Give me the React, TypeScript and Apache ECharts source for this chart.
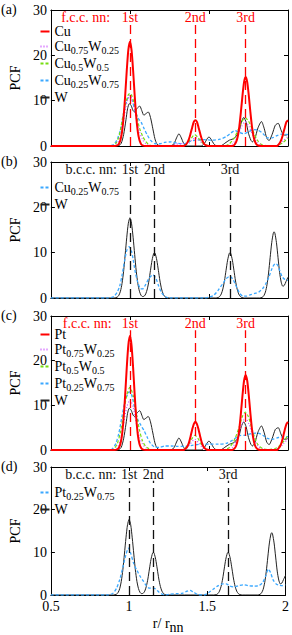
import React, { useEffect, useRef } from "react";
import * as echarts from "echarts";

const FONT = "'Liberation Serif', 'DejaVu Serif', serif";
const RED = "#ff0000";
const VIOLET = "#cc55ff";
const GREEN = "#77dd11";
const BLUE = "#3aa8ff";
const BLACK = "#222222";

const xTicks = [0.5, 1, 1.5, 2];
const yTicks = [0, 10, 20, 30];
const shellLabels = ["1st", "2nd", "3rd"];
const fccShells = [1, 1.414, 1.732];
const bccShells = [1, 1.155, 1.633];

// ---- panel (a): Cu-W, f.c.c.
const cuFcc = [[0.5,0],[0.9,0],[0.92,0.14],[0.93,0.46],[0.94,1.3],[0.95,3.1],[0.96,6.4],[0.97,11.2],[0.98,16.7],[0.99,21.2],[1.0,23],[1.01,21.2],[1.02,16.7],[1.03,11.2],[1.04,6.4],[1.05,3.1],[1.06,1.3],[1.07,0.46],[1.08,0.14],[1.1,0],[1.34,0],[1.354,0.3],[1.364,0.8],[1.374,1.6],[1.384,2.8],[1.394,4.1],[1.404,5.3],[1.414,5.7],[1.424,5.3],[1.434,4.1],[1.444,2.8],[1.454,1.6],[1.464,0.8],[1.474,0.3],[1.484,0.1],[1.5,0],[1.65,0],[1.662,0.3],[1.672,0.9],[1.682,2.1],[1.692,4.3],[1.702,7.5],[1.712,11.1],[1.722,14.1],[1.732,15.3],[1.742,14.1],[1.752,11.1],[1.762,7.5],[1.772,4.3],[1.782,2.1],[1.792,0.9],[1.802,0.3],[1.812,0.1],[1.83,0],[1.93,0],[1.94,0.3],[1.95,0.8],[1.96,1.6],[1.97,2.8],[1.98,4.1],[1.99,5.3],[2.0,5.7]];
const cu75w25 = [[0.5,0],[0.9,0],[0.92,0.6],[0.94,2.3],[0.96,5.8],[0.98,9.5],[1.0,11.2],[1.02,9.5],[1.04,6.2],[1.06,3.2],[1.08,1.4],[1.1,0.5],[1.13,0],[1.25,0],[1.29,0.4],[1.33,0.5],[1.37,0.6],[1.39,1.2],[1.415,1.8],[1.44,1.2],[1.46,0.5],[1.49,0],[1.62,0],[1.65,0.5],[1.68,2],[1.705,4.2],[1.73,5.4],[1.755,4.2],[1.78,2.2],[1.81,0.7],[1.84,0.1],[1.9,0],[1.94,0.3],[1.97,1.2],[2.0,2.1]];
const cu50w50 = [[0.5,0],[0.89,0],[0.91,0.5],[0.93,2],[0.95,5.5],[0.97,9],[0.99,11.3],[1.0,11.6],[1.01,11.3],[1.03,9],[1.05,5.5],[1.06,4],[1.08,2.2],[1.1,1],[1.12,0.3],[1.15,0],[1.33,0],[1.35,0.3],[1.37,0.9],[1.39,1.8],[1.41,2.5],[1.43,1.9],[1.45,1],[1.47,0.4],[1.49,0.1],[1.52,0],[1.6,0],[1.63,0.5],[1.66,1.8],[1.69,4],[1.71,5.5],[1.73,6.2],[1.75,5.5],[1.77,4],[1.79,2.4],[1.81,1.1],[1.83,0.4],[1.86,0.1],[1.9,0],[1.94,0.2],[1.97,0.8],[2.0,1.8]];
const cu25w75Fcc = [[0.5,0],[0.86,0],[0.88,0.1],[0.9,0.4],[0.92,1.5],[0.94,3.6],[0.96,7.3],[0.98,10],[1.0,11.2],[1.015,10],[1.03,8],[1.05,6.2],[1.07,5.3],[1.09,3.8],[1.11,2.4],[1.13,1.3],[1.16,0.5],[1.19,0.5],[1.22,0.8],[1.26,0.9],[1.3,0.6],[1.34,0.5],[1.38,1.0],[1.42,1.3],[1.47,1.4],[1.52,1.3],[1.57,1.5],[1.61,2.1],[1.64,2.9],[1.665,3.4],[1.69,3.0],[1.72,2.7],[1.75,3.1],[1.78,3.6],[1.81,3.5],[1.84,2.8],[1.87,1.8],[1.9,1.8],[1.93,2.3],[1.96,2.6],[2.0,2.5]];
const wFcc = [[0.5,0],[0.9,0],[0.93,0.1],[0.945,0.6],[0.96,2.5],[0.975,5.8],[0.985,8.2],[0.996,9.35],[1.008,8.9],[1.02,7.8],[1.03,7.5],[1.045,8.3],[1.062,8.8],[1.075,7.8],[1.088,6.8],[1.1,7.1],[1.116,7.5],[1.13,6.3],[1.145,3.8],[1.158,1.6],[1.17,0.5],[1.185,0.05],[1.2,0],[1.26,0],[1.28,0.6],[1.295,1.8],[1.31,2.7],[1.325,1.8],[1.34,0.6],[1.36,0],[1.45,0],[1.47,0.5],[1.485,1.4],[1.5,2.0],[1.515,1.4],[1.53,0.5],[1.55,0],[1.58,0.1],[1.6,0.6],[1.63,1.3],[1.66,1.7],[1.69,3.2],[1.705,5.3],[1.72,6.3],[1.735,5.2],[1.75,2.8],[1.765,1.3],[1.775,0.9],[1.79,1.6],[1.81,4.0],[1.832,5.4],[1.85,3.8],[1.865,1.8],[1.88,1.2],[1.9,2.6],[1.92,4.6],[1.938,5.0],[1.955,3.6],[1.97,2.5],[1.985,2.4],[2.0,2.6]];

// ---- panel (b) and (d): b.c.c.
const wBcc = [[0.5,0],[0.9,0],[0.92,0.2],[0.93,0.6],[0.94,1.5],[0.95,3.2],[0.96,5.9],[0.97,9.6],[0.98,13.4],[0.99,16.5],[1.0,17.7],[1.01,16.5],[1.02,13.4],[1.03,9.6],[1.04,5.9],[1.05,3.2],[1.06,1.5],[1.07,0.6],[1.08,0.32],[1.09,0.4],[1.1,0.9],[1.11,2],[1.12,3.75],[1.13,6.1],[1.14,8.35],[1.15,9.8],[1.155,10],[1.16,9.8],[1.17,8.35],[1.18,6.1],[1.19,3.75],[1.2,2],[1.21,0.9],[1.22,0.34],[1.23,0.1],[1.25,0],[1.54,0],[1.558,0.1],[1.568,0.34],[1.578,0.9],[1.588,2],[1.598,3.75],[1.608,6.1],[1.618,8.35],[1.628,9.8],[1.633,10],[1.638,9.8],[1.648,8.35],[1.658,6.1],[1.668,3.75],[1.678,2],[1.688,0.9],[1.698,0.34],[1.708,0.1],[1.725,0],[1.82,0],[1.837,0.15],[1.847,0.5],[1.857,1.3],[1.867,2.9],[1.877,5.5],[1.887,8.9],[1.897,12.2],[1.907,14.3],[1.912,14.6],[1.917,14.3],[1.927,12.2],[1.937,8.9],[1.947,5.6],[1.957,3.5],[1.967,2.6],[1.977,2.8],[1.987,3.6],[2.0,4.6]];
const cu25w75Bcc = [[0.5,0],[0.86,0],[0.88,0.1],[0.9,0.4],[0.92,1.3],[0.935,2.6],[0.95,5],[0.965,8],[0.98,10.5],[0.995,11.3],[1.01,10.3],[1.02,8.6],[1.035,5.5],[1.05,3.4],[1.065,2.1],[1.08,2.0],[1.1,3.0],[1.12,4.3],[1.145,5.1],[1.165,4.3],[1.18,2.8],[1.2,1.2],[1.22,0.4],[1.25,0],[1.47,0],[1.5,0.2],[1.53,0.6],[1.56,1.8],[1.59,3.3],[1.61,4.3],[1.632,4.8],[1.65,4.2],[1.665,3.2],[1.68,2],[1.695,1.0],[1.715,0.4],[1.735,0.4],[1.76,0.7],[1.79,1.0],[1.815,1.3],[1.84,2.1],[1.86,3.2],[1.88,4.7],[1.9,6.6],[1.92,7.6],[1.935,7.2],[1.95,5.8],[1.965,4.6],[1.98,4.1],[2.0,3.9]];
const pt25w75Bcc = [[0.5,0],[0.86,0],[0.88,0.1],[0.9,0.5],[0.92,1.6],[0.94,3.6],[0.96,6.5],[0.98,9.5],[0.996,11],[1.01,9.8],[1.03,7.3],[1.05,5.8],[1.07,4.4],[1.09,3.3],[1.11,2.2],[1.13,1.6],[1.15,1.6],[1.17,1.4],[1.19,0.7],[1.21,0.2],[1.23,0],[1.26,0.2],[1.3,0.3],[1.34,0.4],[1.37,0.9],[1.39,1.1],[1.41,0.7],[1.44,0.1],[1.48,0],[1.51,0.6],[1.54,1.4],[1.57,2.2],[1.6,2.6],[1.62,2.6],[1.645,2.1],[1.67,1.9],[1.7,2.2],[1.73,2.4],[1.76,2.2],[1.8,2.1],[1.83,2.2],[1.855,3.0],[1.875,4.6],[1.89,6.1],[1.905,5.2],[1.92,3.6],[1.94,2.6],[1.96,2.3],[1.98,2.2],[2.0,2.4]];

// ---- panel (c): Pt-W, f.c.c.
const ptFcc = [[0.5,0],[0.9,0],[0.92,0.15],[0.93,0.5],[0.94,1.4],[0.95,3.4],[0.96,7.1],[0.97,12.4],[0.98,18.5],[0.99,23.5],[1.0,25.5],[1.01,23.5],[1.02,18.5],[1.03,12.4],[1.04,7.1],[1.05,3.4],[1.06,1.4],[1.07,0.5],[1.08,0.15],[1.1,0],[1.34,0],[1.344,0.1],[1.354,0.35],[1.364,0.85],[1.374,1.75],[1.384,3.1],[1.394,4.6],[1.404,5.8],[1.414,6.3],[1.424,5.8],[1.434,4.6],[1.444,3.1],[1.454,1.75],[1.464,0.85],[1.474,0.35],[1.484,0.1],[1.5,0],[1.64,0],[1.652,0.1],[1.662,0.34],[1.672,0.95],[1.682,2.3],[1.692,4.7],[1.702,8.2],[1.712,12.2],[1.722,15.5],[1.732,16.8],[1.742,15.5],[1.752,12.2],[1.762,8.2],[1.772,4.7],[1.782,2.3],[1.792,0.95],[1.802,0.34],[1.812,0.1],[1.83,0],[1.93,0],[1.94,0.35],[1.95,0.85],[1.96,1.75],[1.97,3.1],[1.98,4.6],[1.99,5.8],[2.0,6.3]];
const pt75w25 = [[0.5,0],[0.9,0],[0.92,0.5],[0.94,2.2],[0.96,5.8],[0.98,9.6],[1.0,11.2],[1.02,9.6],[1.04,6],[1.06,3],[1.08,1.3],[1.1,0.5],[1.13,0],[1.33,0],[1.36,0.5],[1.38,1.3],[1.41,2.4],[1.44,1.4],[1.46,0.5],[1.49,0],[1.62,0],[1.65,0.6],[1.68,2.6],[1.705,5.6],[1.73,7.2],[1.755,5.6],[1.78,2.8],[1.81,0.9],[1.84,0.2],[1.9,0],[1.94,0.4],[1.97,1.3],[2.0,2.6]];
const pt50w50 = [[0.5,0],[0.88,0],[0.9,0.3],[0.92,1.4],[0.94,4],[0.96,8.3],[0.98,12.3],[1.0,14],[1.02,12.3],[1.04,8.3],[1.06,4.5],[1.08,2],[1.1,0.8],[1.12,0.3],[1.15,0],[1.32,0],[1.35,0.4],[1.37,1.2],[1.39,2.4],[1.41,3.3],[1.43,2.6],[1.45,1.4],[1.47,0.5],[1.5,0.1],[1.6,0.1],[1.63,0.6],[1.66,2.2],[1.69,5],[1.71,7.4],[1.73,8.5],[1.75,7.4],[1.77,5],[1.79,2.7],[1.81,1.2],[1.84,0.3],[1.88,0.1],[1.93,0.5],[1.97,1.8],[2.0,3.3]];
const pt25w75Fcc = [[0.5,0],[0.87,0],[0.89,0.3],[0.91,1.4],[0.93,3.8],[0.95,7.6],[0.97,11],[0.99,12.8],[1.0,13],[1.015,11.8],[1.03,9.3],[1.05,6.8],[1.07,5.5],[1.09,4.3],[1.11,2.8],[1.13,1.5],[1.16,0.6],[1.19,0.6],[1.22,0.9],[1.26,0.9],[1.3,0.8],[1.35,0.8],[1.4,1.1],[1.45,1.3],[1.5,1.3],[1.56,1.3],[1.61,1.5],[1.65,2.2],[1.69,3.2],[1.73,3.3],[1.77,3.7],[1.81,3.8],[1.84,3.3],[1.87,2.6],[1.9,2.4],[1.94,2.8],[2.0,3.0]];

const GRID_LEFT = 38;
const GRID_W = 250;
const grids = [
  { top: 10, height: 136 },
  { top: 162, height: 136 },
  { top: 316, height: 134 },
  { top: 467, height: 136 },
];
const panelLetters = ["(a)", "(b)", "(c)", "(d)"];

const legendText: Record<string, string> = {
  Cu: "{m|Cu}",
  Pt: "{m|Pt}",
  W: "{m|W}",
  "Cu0.75W0.25": "{m|Cu}{s|0.75}{m|W}{s|0.25}",
  "Cu0.5W0.5": "{m|Cu}{s|0.5}{m|W}{s|0.5}",
  "Cu0.25W0.75": "{m|Cu}{s|0.25}{m|W}{s|0.75}",
  "Pt0.75W0.25": "{m|Pt}{s|0.75}{m|W}{s|0.25}",
  "Pt0.5W0.5": "{m|Pt}{s|0.5}{m|W}{s|0.5}",
  "Pt0.25W0.75": "{m|Pt}{s|0.25}{m|W}{s|0.75}",
};

export default function App() {
  const ref = useRef<HTMLDivElement>(null);
  useEffect(() => {
    if (!ref.current) return;
    const chart = echarts.init(ref.current, null, { renderer: "svg" });

    const xAxis: any[] = [];
    const yAxis: any[] = [];
    grids.forEach((g, i) => {
      const last = i === grids.length - 1;
      const common = {
        gridIndex: i,
        type: "value",
        min: xTicks[0],
        max: xTicks[xTicks.length - 1],
        interval: 0.5,
        axisLine: { show: true, onZero: false, lineStyle: { color: "#000", width: 1 } },
        axisTick: { show: true, inside: true, length: 4, lineStyle: { color: "#000" } },
        splitLine: { show: false },
      };
      xAxis.push({
        ...common,
        position: "bottom",
        axisLabel: {
          show: last,
          color: "#000",
          fontFamily: FONT,
          fontSize: 14,
          margin: 4,
        },
        name: last ? "r/ r{s|nn}" : "",
        nameLocation: "middle",
        nameGap: 17,
        nameTextStyle: {
          color: "#000",
          fontFamily: FONT,
          fontSize: 14,
          rich: {
            s: { fontSize: 14, fontFamily: FONT, color: "#000", padding: [8, 0, 0, 0] },
          },
        },
      });
      xAxis.push({ ...common, position: "top", axisLabel: { show: false } });
      const ycommon = {
        gridIndex: i,
        type: "value",
        min: yTicks[0],
        max: yTicks[yTicks.length - 1],
        interval: 10,
        axisLine: { show: true, onZero: false, lineStyle: { color: "#000", width: 1 } },
        axisTick: { show: true, inside: true, length: 4, lineStyle: { color: "#000" } },
        splitLine: { show: false },
      };
      yAxis.push({
        ...ycommon,
        position: "left",
        axisLabel: { color: "#000", fontFamily: FONT, fontSize: 14, margin: 4 },
        name: "PCF",
        nameLocation: "middle",
        nameGap: 22,
        nameTextStyle: { color: "#000", fontFamily: FONT, fontSize: 14 },
      });
      yAxis.push({ ...ycommon, position: "right", axisLabel: { show: false } });
    });

    const ln = (name: string, data: number[][], gi: number, color: string, width: number, type: any) => ({
      type: "line",
      name,
      data,
      xAxisIndex: gi * 2,
      yAxisIndex: gi * 2,
      symbol: "none",
      showSymbol: false,
      smooth: 0.25,
      lineStyle: { color, width, type },
      itemStyle: { color },
      z: 2,
    });

    const shellMarks = (gi: number, shells: number[], color: string, title: string, titleX: number) => ({
      type: "line",
      name: "shells" + gi,
      data: [],
      xAxisIndex: gi * 2,
      yAxisIndex: gi * 2,
      symbol: "none",
      z: 5,
      markLine: {
        silent: true,
        symbol: ["none", "none"],
        label: { show: false },
        lineStyle: { color, width: 1.3, type: [9, 5] },
        data: shells.map((s) => [{ coord: [s, 0] }, { coord: [s, 26.8] }]),
      },
      markPoint: {
        silent: true,
        symbol: "circle",
        symbolSize: 1,
        itemStyle: { color: "rgba(0,0,0,0)" },
        label: {
          show: true,
          position: "inside",
          formatter: (p: any) => p.name,
          color,
          fontFamily: FONT,
          fontSize: 14,
        },
        data: [
          { name: title, coord: [titleX, 28.3] },
          ...shells.map((s, k) => ({ name: shellLabels[k], coord: [s, 28.3] })),
        ],
      },
    });

    const dashBlue = [3, 2];
    const dashGreen = [3, 2];
    const dotViolet = [1, 2];

    const series: any[] = [
      ln("W", wFcc, 0, BLACK, 1, "solid"),
      ln("Cu0.25W0.75", cu25w75Fcc, 0, BLUE, 1.3, dashBlue),
      ln("Cu0.5W0.5", cu50w50, 0, GREEN, 1.2, dashGreen),
      ln("Cu0.75W0.25", cu75w25, 0, VIOLET, 1.2, dotViolet),
      ln("Cu", cuFcc, 0, RED, 2, "solid"),
      shellMarks(0, fccShells, RED, "f.c.c. nn:", 0.72),

      ln("W", wBcc, 1, BLACK, 1, "solid"),
      ln("Cu0.25W0.75", cu25w75Bcc, 1, BLUE, 1.3, dashBlue),
      shellMarks(1, bccShells, "#111", "b.c.c. nn:", 0.755),

      ln("W", wFcc, 2, BLACK, 1, "solid"),
      ln("Pt0.25W0.75", pt25w75Fcc, 2, BLUE, 1.3, dashBlue),
      ln("Pt0.5W0.5", pt50w50, 2, GREEN, 1.2, dashGreen),
      ln("Pt0.75W0.25", pt75w25, 2, VIOLET, 1.2, dotViolet),
      ln("Pt", ptFcc, 2, RED, 2, "solid"),
      shellMarks(2, fccShells, RED, "f.c.c. nn:", 0.73),

      ln("W", wBcc, 3, BLACK, 1, "solid"),
      ln("Pt0.25W0.75", pt25w75Bcc, 3, BLUE, 1.3, dashBlue),
      shellMarks(3, bccShells, "#111", "b.c.c. nn:", 0.755),
    ];

    const legendBase = {
      orient: "vertical",
      left: 39,
      padding: 0,
      itemWidth: 9,
      itemHeight: 15,
      itemGap: 1,
      selectedMode: false,
      itemStyle: { opacity: 0 },
      formatter: (name: string) => legendText[name] || name,
      textStyle: {
        color: "#000",
        fontFamily: FONT,
        fontSize: 14,
        rich: {
          m: { fontFamily: FONT, fontSize: 14, color: "#000", lineHeight: 15, verticalAlign: "top" },
          s: { fontFamily: FONT, fontSize: 10, color: "#000", lineHeight: 9, verticalAlign: "top", padding: [6, 0, 0, 0] },
        },
      },
    };

    const legend = [
      { ...legendBase, top: 24, data: ["Cu", "Cu0.75W0.25", "Cu0.5W0.5", "Cu0.25W0.75", "W"] },
      { ...legendBase, top: 180, data: ["Cu0.25W0.75", "W"] },
      { ...legendBase, top: 327, data: ["Pt", "Pt0.75W0.25", "Pt0.5W0.5", "Pt0.25W0.75", "W"] },
      { ...legendBase, top: 485, data: ["Pt0.25W0.75", "W"] },
    ];

    chart.setOption({
      animation: false,
      backgroundColor: "#fff",
      grid: grids.map((g) => ({ left: GRID_LEFT, width: GRID_W, top: g.top, height: g.height })),
      xAxis,
      yAxis,
      legend,
      series,
      graphic: grids.map((g, i) => ({
        type: "text",
        left: 1,
        top: g.top - 8,
        style: { text: panelLetters[i], font: `14px ${FONT}`, fill: "#000" },
        silent: true,
      })),
    });
    return () => chart.dispose();
  }, []);
  return (
    <div
      ref={ref}
      style={{ position: "fixed", left: 0, top: 0, width: 292, height: 635, background: "#fff" }}
    />
  );
}
